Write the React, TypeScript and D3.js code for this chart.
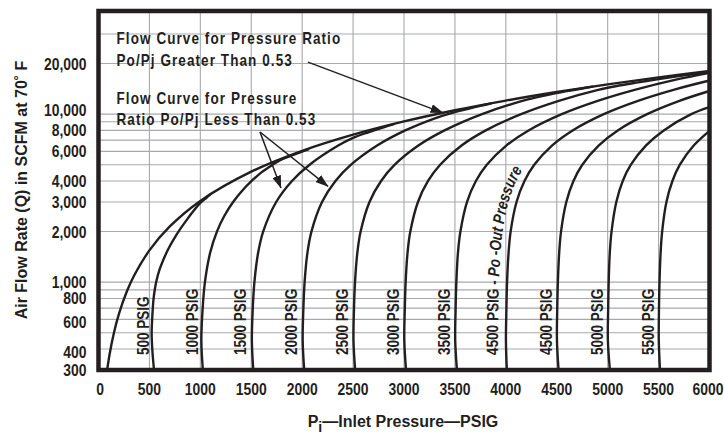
import React from "react";
import * as d3 from "d3";

type Pt = [number, number];

// ---------- axis values ----------
const xTickValues = [0, 500, 1000, 1500, 2000, 2500, 3000, 3500, 4000, 4500, 5000, 5500, 6000];
const xGridValues = [500, 1000, 1500, 2000, 2500, 3000, 3500, 4000, 4500, 5000, 5500];
const yTickValues = [300, 400, 600, 800, 1000, 2000, 3000, 4000, 6000, 8000, 10000, 20000];
const yGridValues = [400, 500, 600, 700, 800, 900, 1000, 2000, 3000, 4000, 5000, 6000, 7000, 8000, 9000, 10000, 20000, 30000];

// ---------- series: [inlet pressure PSIG, flow SCFM] ----------
const envelope: Pt[] = [
  [85, 300], [110, 375], [150, 495], [200, 645], [280, 885], [350, 1095], [500, 1545], [700, 2145],
  [1000, 3045], [1500, 4545], [2000, 6045], [2500, 7545], [3000, 9045], [3500, 10545],
  [4000, 12045], [4500, 13545], [5000, 15045], [5500, 16545], [6000, 18045],
];
const flow500: Pt[] = [
  [545, 300], [528, 400], [522, 500], [530, 650], [540, 790], [555, 920], [571, 1030], [600, 1190],
  [636, 1355], [684, 1570], [734, 1780], [800, 2060], [865, 2340], [930, 2640], [996, 2940],
  [1060, 3180], [1100, 3340],
];
const flow1000: Pt[] = [
  [1025, 300], [1010, 450], [1023, 700], [1045, 1000], [1097, 1500], [1163, 2000], [1239, 2500],
  [1322, 3000], [1411, 3500], [1504, 4000], [1600, 4500], [1699, 4950], [1780, 5300], [1880, 5620],
  [1980, 5930], [2060, 6180],
];
const flow1500: Pt[] = [
  [1520, 300], [1506, 450], [1515, 700], [1531, 1000], [1568, 1500], [1617, 2000], [1745, 3000],
  [1900, 4000], [2073, 5000], [2354, 6500], [2500, 7220], [2650, 7800], [2800, 8350], [2900, 8710],
];
const flow2000: Pt[] = [
  [2020, 300], [2005, 450], [2012, 700], [2024, 1000], [2052, 1500], [2091, 2000], [2195, 3000],
  [2327, 4000], [2480, 5000], [2736, 6500], [3012, 8000], [3303, 9450], [3450, 10080],
  [3600, 10650], [3750, 11200], [3850, 11560],
];
const flow2500: Pt[] = [
  [2520, 300], [2504, 450], [2509, 700], [2519, 1000], [2542, 1500], [2574, 2000], [2661, 3000],
  [2775, 4000], [2909, 5000], [3141, 6500], [3398, 8000], [3766, 10000], [4154, 11950],
  [4300, 12580], [4450, 13180], [4600, 13700], [4750, 14220], [4850, 14570],
];
const flow3000: Pt[] = [
  [3020, 300], [3003, 450], [3008, 700], [3016, 1000], [3035, 1500], [3062, 2000], [3137, 3000],
  [3236, 4000], [3355, 5000], [3565, 6500], [3803, 8000], [4150, 10000], [4520, 12000],
  [4907, 13950], [5100, 14750], [5300, 15450], [5500, 16150], [5750, 17000], [6000, 17800],
];
const flow3500: Pt[] = [
  [3520, 300], [3503, 450], [3507, 700], [3514, 1000], [3530, 1500], [3554, 2000], [3619, 3000],
  [3706, 4000], [3813, 5000], [4004, 6500], [4223, 8000], [4549, 10000], [4902, 12000],
  [5274, 14000], [5660, 16000], [6000, 17600],
];
const flow4000: Pt[] = [
  [4010, 300], [4001, 450], [4006, 700], [4012, 1000], [4027, 1500], [4047, 2000], [4105, 3000],
  [4183, 4000], [4279, 5000], [4453, 6500], [4656, 8000], [4962, 10000], [5298, 12000],
  [5655, 14000], [6000, 15850],
];
const flow4500: Pt[] = [
  [4518, 300], [4502, 450], [4505, 700], [4511, 1000], [4524, 1500], [4542, 2000], [4594, 3000],
  [4664, 4000], [4751, 5000], [4911, 6500], [5099, 8000], [5387, 10000], [5705, 12000], [6000, 13730],
];
const flow5000: Pt[] = [
  [5022, 300], [5002, 450], [5005, 700], [5010, 1000], [5021, 1500], [5038, 2000], [5085, 3000],
  [5148, 4000], [5228, 5000], [5375, 6500], [5551, 8000], [5821, 10000], [6000, 11000],
];
const flow5500: Pt[] = [
  [5514, 300], [5502, 450], [5504, 700], [5509, 1000], [5520, 1500], [5535, 2000], [5577, 3000],
  [5636, 4000], [5709, 5000], [5845, 6500], [6000, 7950],
];

const outletPressures = [500, 1000, 1500, 2000, 2500, 3000, 3500, 4000, 4500, 5000, 5500];
const outletCurves = [flow500, flow1000, flow1500, flow2000, flow2500, flow3000, flow3500, flow4000, flow4500, flow5000, flow5500];
const outletLabels = ["500 PSIG", "1000 PSIG", "1500 PSIG", "2000 PSIG", "2500 PSIG", "3000 PSIG", "3500 PSIG", "", "4500 PSIG", "5000 PSIG", "5500 PSIG"];
const curvedLabelMain = "4500 PSIG - ";
const curvedLabelItalic = "Po -Out Pressure";

const noteGreater = ["Flow Curve for Pressure Ratio", "Po/Pj Greater Than 0.53"];
const noteLess = ["Flow Curve for Pressure", "Ratio Po/Pj Less Than 0.53"];
const arrowGreater: Pt[] = [[2057, 20400], [3383, 10170]];
const arrowsLess: Pt[][] = [
  [[1586, 7830], [1792, 3630]],
  [[1586, 7830], [2254, 3716]],
];

const yAxisTitle = "Air Flow Rate (Q) in SCFM at 70˚ F";
const xAxisTitleMain = "P";
const xAxisTitleSub = "i";
const xAxisTitleRest = "—Inlet Pressure—PSIG";

// ---------- styling ----------
const INK = "#231f20";
const GRID = "#a7a9ac";
const FONT = "'Liberation Sans', Arial, Helvetica, sans-serif";
const SQUEEZE = 0.82; // condensed look

const fmt = d3.format(",");

type NProps = {
  x: number;
  y: number;
  rotate?: number;
  anchor?: "start" | "middle" | "end";
  size: number;
  spacing?: number;
  children: React.ReactNode;
};

function NarrowText({ x, y, rotate, anchor = "start", size, spacing = 0, children }: NProps) {
  const rot = rotate ? ` rotate(${rotate})` : "";
  return (
    <text
      transform={`translate(${x},${y})${rot} scale(${SQUEEZE},1)`}
      textAnchor={anchor}
      fontSize={size}
      letterSpacing={spacing}
    >
      {children}
    </text>
  );
}

export default function App() {
  const x = d3.scaleLinear().domain([0, 6000]).range([98.5, 709.5]);
  const y = d3.scaleLog().domain([300, 41100]).range([370, 11]);
  const [x0, x1] = x.range();
  const [yB, yT] = y.range();

  const line = d3
    .line<Pt>()
    .x((d) => x(d[0]))
    .y((d) => y(d[1]))
    .curve(d3.curveCatmullRom.alpha(0.5));

  const offsetLine = d3
    .line<Pt>()
    .x((d) => x(d[0]) - 8)
    .y((d) => y(d[1]))
    .curve(d3.curveCatmullRom.alpha(0.5));

  const labelShift = (i: number) => (i === 0 ? 0.5 : i === 1 ? 2.5 : 5);
  const yNudge = (v: number) => (v === 10000 ? -4.5 : v === 600 || v === 400 ? 3 : 0);

  return (
    <svg
      width={724}
      height={435}
      viewBox="0 0 724 435"
      style={{ position: "absolute", left: 0, top: 0, background: "#fff" }}
    >
      <defs>
        <clipPath id="plot">
          <rect x={x0} y={yT} width={x1 - x0} height={yB - yT} />
        </clipPath>
        <marker
          id="ah"
          viewBox="0 0 13 9"
          refX={12.5}
          refY={4.5}
          markerWidth={13}
          markerHeight={9}
          markerUnits="userSpaceOnUse"
          orient="auto"
        >
          <path d="M0,0 L13,4.5 L0,9 Z" fill={INK} />
        </marker>
        <path id="curvedLabelPath" d={offsetLine(flow4000) || ""} />
      </defs>

      <rect x={0} y={0} width={724} height={435} fill="#fff" />

      {/* grid */}
      <g stroke={GRID} strokeWidth={1.1}>
        {xGridValues.map((v) => (
          <line key={"gx" + v} x1={x(v)} x2={x(v)} y1={yT} y2={yB} />
        ))}
        {yGridValues.map((v) => (
          <line key={"gy" + v} x1={x0} x2={x1} y1={y(v)} y2={y(v)} />
        ))}
      </g>

      {/* annotations */}
      <g fontFamily={FONT} fontWeight="bold" fill={INK}>
        <NarrowText x={116.5} y={43.5} size={16.5} spacing={1.3}>{noteGreater[0]}</NarrowText>
        <NarrowText x={116.5} y={66} size={16.5} spacing={1.3}>{noteGreater[1]}</NarrowText>
        <NarrowText x={116.5} y={104} size={16.5} spacing={1.3}>{noteLess[0]}</NarrowText>
        <NarrowText x={116.5} y={125} size={16.5} spacing={1.3}>{noteLess[1]}</NarrowText>
      </g>

      {/* curves */}
      <g clipPath="url(#plot)" fill="none" stroke={INK} strokeWidth={2.4} strokeLinejoin="round" strokeLinecap="round">
        <path d={line(envelope) || ""} />
        {outletCurves.map((c, i) => (
          <path key={"c" + outletPressures[i]} d={line(c) || ""} />
        ))}
      </g>

      {/* arrows */}
      <g stroke={INK} strokeWidth={1.5} fill="none">
        <line
          x1={x(arrowGreater[0][0])}
          y1={y(arrowGreater[0][1])}
          x2={x(arrowGreater[1][0])}
          y2={y(arrowGreater[1][1])}
          markerEnd="url(#ah)"
        />
        {arrowsLess.map((a, i) => (
          <line key={"al" + i} x1={x(a[0][0])} y1={y(a[0][1])} x2={x(a[1][0])} y2={y(a[1][1])} markerEnd="url(#ah)" />
        ))}
      </g>

      {/* curve labels */}
      <g fontFamily={FONT} fontWeight="bold" fill={INK}>
        {outletLabels.map((t, i) =>
          t ? (
            <NarrowText key={"lab" + i} x={x(outletPressures[i]) - labelShift(i)} y={355} rotate={-90} size={16.5}>
              {t}
            </NarrowText>
          ) : null
        )}
        <text fontSize={16.5}>
          <textPath href="#curvedLabelPath" startOffset={15} textLength={189} lengthAdjust="spacingAndGlyphs">
            {curvedLabelMain}
            <tspan fontStyle="italic">{curvedLabelItalic}</tspan>
          </textPath>
        </text>
      </g>

      {/* frame */}
      <rect x={x0} y={yT} width={x1 - x0} height={yB - yT} fill="none" stroke={INK} strokeWidth={4.5} />

      {/* tick labels */}
      <g fontFamily={FONT} fontWeight="bold" fill={INK}>
        {xTickValues.map((v) => (
          <NarrowText key={"xt" + v} x={x(v) + (v === 0 ? 1.5 : v === 6000 ? -1.5 : 0)} y={395} anchor="middle" size={17}>
            {v}
          </NarrowText>
        ))}
        {yTickValues.map((v) => (
          <NarrowText key={"yt" + v} x={86.5} y={y(v) + 6 + yNudge(v)} anchor="end" size={17}>
            {fmt(v)}
          </NarrowText>
        ))}
      </g>

      {/* axis titles */}
      <g fontFamily={FONT} fontWeight="bold" fontSize={16} fill={INK}>
        <text transform="translate(26.5,190) rotate(-90)" textAnchor="middle">
          {yAxisTitle}
        </text>
        <text x={403} y={427} textAnchor="middle">
          {xAxisTitleMain}
          <tspan dy={5} fontSize={14}>{xAxisTitleSub}</tspan>
          <tspan dy={-5}>{xAxisTitleRest}</tspan>
        </text>
      </g>
    </svg>
  );
}
